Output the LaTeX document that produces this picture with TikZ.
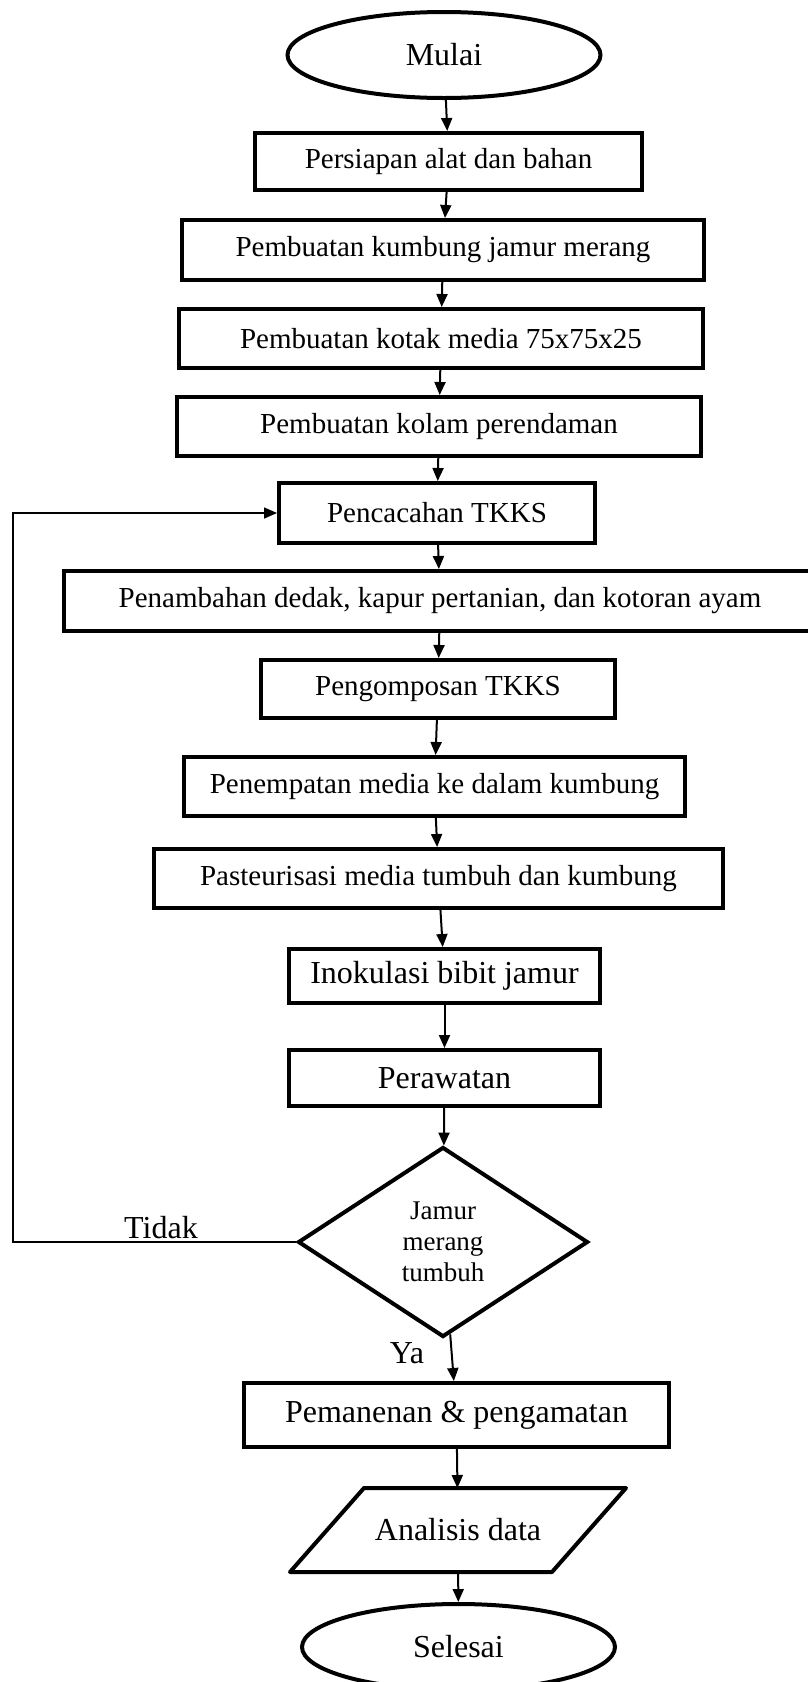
\documentclass[tikz,border=0pt]{standalone}
\usepackage{fontspec}
\setmainfont{Liberation Serif}
\usepackage{tikz}
\usetikzlibrary{arrows.meta,positioning,shapes.geometric}
\newcommand{\teksbox}{\fontsize{29}{34}\selectfont}
\newcommand{\teksbesar}{\fontsize{32}{38}\selectfont}
\newcommand{\tekskecil}{\fontsize{27}{31}\selectfont}
\tikzset{
  proses/.style={rectangle,draw=black,line width=4pt,inner sep=0pt,font=\teksbox},
  prosesb/.style={proses,font=\teksbesar},
  terminal/.style={ellipse,draw=black,line width=4pt,minimum width=313pt,
                   minimum height=86pt,inner sep=0pt,font=\teksbesar},
  keputusan/.style={diamond,draw=black,line width=4pt,minimum width=290pt,
                    minimum height=190pt,inner sep=0pt,align=center,font=\tekskecil},
  masukan/.style={rectangle,line width=4pt,minimum width=258pt,minimum height=80pt,
                  inner sep=0pt,font=\teksbesar},
  miring/.style={draw=black,line width=4pt,line join=round},
  alur/.style={-{Triangle[length=13pt,width=11pt]},line width=2pt},
  balik/.style={-{Triangle[length=13pt,width=11pt]},line width=1.6pt},
  ket/.style={font=\teksbesar,anchor=base},
}
\begin{document}
\begin{tikzpicture}[x=1pt,y=-1pt]
  \useasboundingbox (0,0) rectangle (808,1682);
  \node[terminal] (mulai) at (444,55) {Mulai};
  \node[proses,minimum width=387pt,minimum height=57pt] (siap) at (448.5,161.5) {Persiapan alat dan bahan};
  \node[proses,minimum width=522pt,minimum height=60pt] (kumbung) at (443,250) {Pembuatan kumbung jamur merang};
  \node[proses,minimum width=524pt,minimum height=59pt] (kotak) at (441,338.5) {Pembuatan kotak media 75x75x25};
  \node[proses,minimum width=524pt,minimum height=59pt] (kolam) at (439,426.5) {Pembuatan kolam perendaman};
  \node[proses,minimum width=316pt,minimum height=60pt] (cacah) at (437,513) {Pencacahan TKKS};
  \node[proses,minimum width=752pt,minimum height=60pt] (tambah) at (440,601) {Penambahan dedak, kapur pertanian, dan kotoran ayam};
  \node[proses,minimum width=354pt,minimum height=58pt] (kompos) at (438,689) {Pengomposan TKKS};
  \node[proses,minimum width=501pt,minimum height=59pt] (tempat) at (434.5,786.5) {Penempatan media ke dalam kumbung};
  \node[proses,minimum width=569pt,minimum height=59pt] (pasteur) at (438.5,878.5) {Pasteurisasi media tumbuh dan kumbung};
  \node[prosesb,minimum width=311pt,minimum height=54pt] (inokulasi) at (444.5,976) {Inokulasi bibit jamur};
  \node[prosesb,minimum width=311pt,minimum height=56pt] (rawat) at (444.5,1078) {Perawatan};
  \node[keputusan] (jamur) at (443,1242) {Jamur\\merang\\tumbuh};
  \node[prosesb,minimum width=425pt,minimum height=64pt] (panen) at (456.5,1415) {Pemanenan \& pengamatan};
  \node[masukan] (analisis) at (458,1530) {Analisis data};
  \draw[miring] ([xshift=-37pt]analisis.south west) -- ([xshift=37pt]analisis.north west)
    -- ([xshift=37pt]analisis.north east) -- ([xshift=-37pt]analisis.south east) -- cycle;
  \node[terminal] (selesai) at (458.5,1647) {Selesai};
  \coordinate (kiri) at (13,508);
  \foreach \a/\b in {mulai/siap,siap/kumbung,kumbung/kotak,kotak/kolam,kolam/cacah,
                     cacah/tambah,tambah/kompos,kompos/tempat,tempat/pasteur,
                     pasteur/inokulasi,inokulasi/rawat,rawat/jamur,jamur/panen,
                     panen/analisis,analisis/selesai}
    \draw[alur] (\a) -- (\b);
  \draw[balik] (jamur.west) -- (jamur.west -| kiri) |- (cacah.west);
  \node[ket] (tidak) at (161,1238) {Tidak};
  \node[ket] (ya) at (407,1363) {Ya};
\end{tikzpicture}
\end{document}
